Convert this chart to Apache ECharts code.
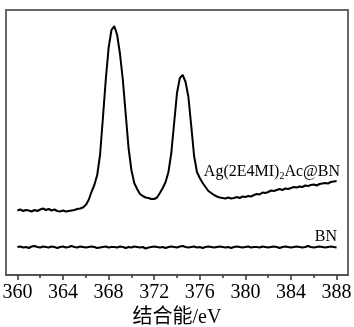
<!DOCTYPE html>
<html>
<head>
<meta charset="utf-8">
<script src="https://cdn.jsdelivr.net/npm/echarts@6/dist/echarts.min.js"></script>
<style>html,body{margin:0;padding:0;background:#fff;}#c{width:354px;height:327px;}</style>
</head>
<body>
<div id="c"></div>
<script>
// Binding energy samples (eV): 360 -> 388, step 0.25
const energyStart = 360;
const energyStep = 0.25;
// Ag(2E4MI)2Ac@BN intensity (a.u.)
const agValues = [
  64.5, 65.5, 64, 65, 64.5, 63.5, 65, 64, 65.5, 66.5,
  65, 66, 64.5, 65.5, 64, 63.5, 64.5, 63.5, 64, 64.5,
  65, 66, 66.5, 67.5, 70, 75, 83, 90, 100, 120,
  157, 195, 227, 245, 249, 240, 221, 195, 161, 127,
  105, 92, 86, 81, 79, 77.5, 77, 76, 76, 77.5,
  82, 87, 93, 103, 122, 152, 182, 197, 200, 193,
  178, 149, 119, 103, 97, 92, 88, 84, 82, 80,
  78.5, 77.5, 77, 76.5, 77.5, 76.5, 77, 78, 77, 78.5,
  78, 79, 78.5, 80, 81, 80.5, 82.5, 82, 83, 84.5,
  84, 85, 86, 85, 86.5, 86, 87, 88, 87.5, 88.5,
  88, 89.5, 89, 90, 90.5, 89.5, 91, 91.5, 92, 91.5,
  93, 93.5, 94
];
// BN intensity (a.u.)
const bnValues = [
  28, 28.5, 27.5, 28, 27, 28.5, 29, 28, 27.5, 28.5,
  28, 27.5, 28.5, 28, 27, 28, 28.5, 27.5, 28, 29,
  28, 27.5, 28.5, 28, 27.5, 28, 28.5, 28, 27, 27.5,
  28, 28.5, 27.5, 28, 28, 27.5, 28.5, 28, 27, 28,
  27.5, 28.5, 28, 27.5, 28, 26.5, 27.5, 28, 28.5, 28,
  27.5, 28, 27, 28, 28.5, 28, 27.5, 28.5, 29, 28,
  27.5, 28, 28.5, 27.5, 28, 27, 28, 28.5, 28, 27.5,
  28, 28.5, 28, 27.5, 28, 27, 28, 28.5, 28, 27.5,
  28, 28.5, 27.5, 28, 28, 27.5, 28.5, 28, 27.5, 28,
  28.5, 28, 27, 28, 28.5, 28, 27.5, 28, 28.5, 28,
  27.5, 28, 29, 28, 27.5, 28, 28.5, 28, 27.5, 28,
  28.5, 28, 27.5
];
const majorTicks = [360, 364, 368, 372, 376, 380, 384, 388];
const minorTicks = [362, 366, 370, 374, 378, 382, 386];
const xName = '结合能/eV';
const agLabel = 'Ag(2E4MI)';
const agLabelSub = '2';
const agLabelTail = 'Ac@BN';
const bnLabel = 'BN';

function toPairs(vals) {
  return vals.map((v, i) => [energyStart + i * energyStep, v]);
}

const serif = '"Liberation Serif", "Times New Roman", "Noto Sans CJK SC", serif';
const chart = echarts.init(document.getElementById('c'));
chart.setOption({
  animation: false,
  grid: { left: 6, right: 6, top: 10, bottom: 52, show: true, borderColor: '#666', borderWidth: 2, outerBoundsMode: 'none', containLabel: false },
  xAxis: [{
    type: 'value', min: 359, max: 389,
    axisLine: { show: true, lineStyle: { color: '#555', width: 2 } },
    axisTick: { show: true, customValues: majorTicks, length: 5, lineStyle: { color: '#333', width: 1.5 } },
    axisLabel: { show: true, customValues: majorTicks, margin: 8, color: '#000', fontSize: 20, fontFamily: serif },
    splitLine: { show: false },
    name: xName, nameLocation: 'middle', nameGap: 30,
    nameTextStyle: { color: '#000', fontSize: 20, fontFamily: serif }
  }, {
    type: 'value', min: 359, max: 389, position: 'bottom',
    axisLine: { show: false },
    axisTick: { show: true, customValues: minorTicks, length: 3, lineStyle: { color: '#333', width: 1.5 } },
    axisLabel: { show: false },
    splitLine: { show: false }
  }],
  yAxis: { type: 'value', min: 0, max: 265, show: false },
  series: [{
    type: 'line', data: toPairs(agValues), showSymbol: false, xAxisIndex: 0,
    lineStyle: { color: '#000', width: 2 }
  }, {
    type: 'line', data: toPairs(bnValues), showSymbol: false, xAxisIndex: 0,
    lineStyle: { color: '#000', width: 2 }
  }],
  graphic: [{
    type: 'text', right: 14, top: 164,
    style: {
      text: '{a|' + agLabel + '}{s|' + agLabelSub + '}{a|' + agLabelTail + '}',
      rich: {
        a: { fontSize: 16, fontFamily: serif, fill: '#000', lineHeight: 18, verticalAlign: 'bottom' },
        s: { fontSize: 10, fontFamily: serif, fill: '#000', lineHeight: 18, verticalAlign: 'bottom', padding: [0, 0, -1, 0] }
      }
    }
  }, {
    type: 'text', right: 17, top: 229,
    style: { text: bnLabel, fontSize: 16, fontFamily: serif, fill: '#000' }
  }]
});
</script>
</body>
</html>
